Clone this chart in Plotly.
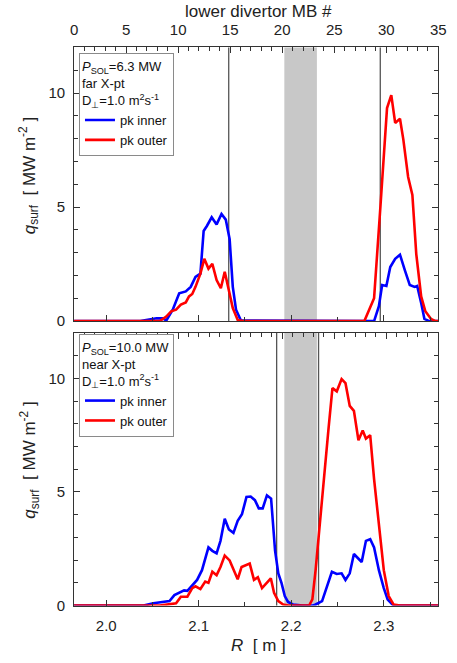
import plotly.graph_objects as go

# ---------------- data ----------------
# top panel: P_SOL = 6.3 MW, far X-pt
top_blue_R = [1.965, 2.0368, 2.0544, 2.0614, 2.0649, 2.0719, 2.0789, 2.0860, 2.0913, 2.0965,
              2.1018, 2.1053, 2.1088, 2.1140, 2.1193, 2.1246, 2.1292, 2.1334, 2.1368, 2.1403,
              2.1456, 2.2895, 2.2947, 2.2982, 2.3028, 2.3070, 2.3123, 2.3175, 2.3228, 2.3281,
              2.3333, 2.3361, 2.3404, 2.3439, 2.3491, 2.360]
top_blue_q = [0, 0, 0.12, 0.12, 0.02, 0.5, 1.22, 1.3, 1.5, 1.94,
              2.08, 3.95, 4.17, 4.55, 4.24, 4.7, 4.45, 3.59, 1.5, 0.5,
              0.02, 0, 0.65, 1.58, 1.54, 2.37, 2.73, 2.91, 2.22, 1.58,
              1.5, 1.54, 0.79, 0.1, 0, 0]
top_red_R = [1.965, 2.0579, 2.0649, 2.0702, 2.0755, 2.0807, 2.0860, 2.0895, 2.0930, 2.0965,
             2.1018, 2.1060, 2.1105, 2.1147, 2.1193, 2.1239, 2.1281, 2.1316, 2.1368, 2.1421,
             2.1474, 2.2790, 2.2824, 2.2895, 2.2965, 2.3035, 2.3081, 2.3123, 2.3175, 2.3211,
             2.3263, 2.3309, 2.3351, 2.3404, 2.3449, 2.3509, 2.3560, 2.360]
top_red_q = [0, 0, 0.2, 0.43, 0.5, 0.72, 0.82, 1.08, 1.19, 1.5,
             2.08, 2.73, 2.3, 2.51, 1.8, 1.44, 2.16, 1.5, 0.57, 0.05,
             0, 0, 0.35, 1.0, 5.1, 9.34, 9.91, 8.69, 8.87, 7.97,
             6.32, 5.53, 2.94, 1.08, 0.43, 0.1, 0, 0]

# bottom panel: P_SOL = 10.0 MW, near X-pt
bot_blue_R = [1.965, 2.0403, 2.0509, 2.0684, 2.0737, 2.0789, 2.0842, 2.0877, 2.0930, 2.0982,
              2.1035, 2.1105, 2.1147, 2.1193, 2.1235, 2.1281, 2.1326, 2.1375, 2.1421, 2.1467,
              2.1516, 2.1561, 2.1607, 2.1649, 2.1691, 2.1737, 2.1782, 2.1825, 2.1860, 2.1895,
              2.1930, 2.1965, 2.2018, 2.2123, 2.2228, 2.2263, 2.2333, 2.2386, 2.2439, 2.2491,
              2.2544, 2.2586, 2.2632, 2.2677, 2.2719, 2.2761, 2.2807, 2.2853, 2.2895, 2.2947,
              2.3000, 2.3042, 2.3105, 2.360]
bot_blue_q = [0, 0, 0.1, 0.2, 0.46, 0.56, 0.67, 0.65, 0.87, 1.13,
              1.56, 2.56, 2.41, 2.3, 2.85, 3.82, 3.35, 3.2, 3.73, 4.02,
              4.78, 4.8, 4.64, 4.28, 4.28, 4.85, 4.71, 2.42, 1.42, 0.99,
              0.42, 0.16, 0.05, 0, 0, 0.05, 0.2, 0.85, 1.49, 1.39,
              1.42, 1.13, 1.42, 2.27, 2.1, 1.92, 2.85, 2.92, 2.56, 1.56,
              0.77, 0.27, 0, 0]
bot_red_R = [1.965, 2.0579, 2.0755, 2.0807, 2.0877, 2.0930, 2.0965, 2.1018, 2.1070, 2.1105,
             2.1147, 2.1193, 2.1235, 2.1281, 2.1334, 2.1379, 2.1421, 2.1463, 2.1508, 2.1551,
             2.1597, 2.1639, 2.1684, 2.1729, 2.1779, 2.1814, 2.1860, 2.1913, 2.1965, 2.2193,
             2.2228, 2.2263, 2.2305, 2.2351, 2.2403, 2.2445, 2.2492, 2.2544, 2.2586, 2.2632,
             2.2677, 2.2726, 2.2772, 2.2807, 2.2853, 2.2895, 2.2947, 2.3000, 2.3053, 2.3105,
             2.3176, 2.360]
bot_red_q = [0, 0, 0.1, 0.39, 0.39, 0.77, 0.85, 0.73, 1.06, 1.0,
             1.49, 1.34, 1.7, 2.2, 1.99, 1.56, 1.16, 1.7, 1.77, 1.85,
             1.13, 1.25, 0.77, 0.99, 1.2, 0.56, 0.2, 0.05, 0, 0,
             0.27, 1.56, 3.5, 5.6, 7.8, 9.57, 9.43, 9.97, 9.79, 8.79,
             8.57, 7.28, 7.71, 7.35, 7.5, 5.57, 3.42, 1.56, 0.42, 0.05,
             0, 0]

gap_band_R = [2.1925, 2.2277]          # shaded gap
top_lines_R = [2.1324, 2.2962]         # vertical markers, top panel
bot_lines_R = [2.1842, 2.2295]         # vertical markers, bottom panel

R_range = [1.9653, 2.3589]
MB_range = [0, 35]
q_range = [0, 12]

top_header = "<i>P</i><sub>SOL</sub>=6.3 MW<br>far X-pt<br>D<sub>⊥</sub>=1.0 m<sup>2</sup>s<sup>-1</sup>"
bot_header = "<i>P</i><sub>SOL</sub>=10.0 MW<br>near X-pt<br>D<sub>⊥</sub>=1.0 m<sup>2</sup>s<sup>-1</sup>"

# ---------------- layout geometry ----------------
W, H = 457, 663
FONT = "Liberation Sans, Arial, sans-serif"
AX = "#333333"
xdom = [72 / W, 446 / W]
top_dom = [1 - 325 / H, 1 - 48 / H]
bot_dom = [1 - 613 / H, 1 - 337 / H]

BLUE = "#0000ff"
RED = "#ff0000"
LW = 2.6

fig = go.Figure()
fig.add_trace(go.Scatter(x=top_blue_R, y=top_blue_q, mode="lines", name="pk inner",
                         line=dict(color=BLUE, width=LW), xaxis="x", yaxis="y", legend="legend"))
fig.add_trace(go.Scatter(x=top_red_R, y=top_red_q, mode="lines", name="pk outer",
                         line=dict(color=RED, width=LW), xaxis="x", yaxis="y", legend="legend"))
fig.add_trace(go.Scatter(x=bot_blue_R, y=bot_blue_q, mode="lines", name="pk inner",
                         line=dict(color=BLUE, width=LW), xaxis="x2", yaxis="y2", legend="legend2"))
fig.add_trace(go.Scatter(x=bot_red_R, y=bot_red_q, mode="lines", name="pk outer",
                         line=dict(color=RED, width=LW), xaxis="x2", yaxis="y2", legend="legend2"))
# empty traces so the MB (top) axes are created
fig.add_trace(go.Scatter(x=[], y=[], xaxis="x3", yaxis="y", showlegend=False, hoverinfo="skip"))
fig.add_trace(go.Scatter(x=[], y=[], xaxis="x4", yaxis="y2", showlegend=False, hoverinfo="skip"))

shapes = []
for xr, yr in (("x", "y"), ("x2", "y2")):
    shapes.append(dict(type="rect", xref=xr, yref=yr + " domain", x0=gap_band_R[0], x1=gap_band_R[1],
                       y0=0, y1=1, fillcolor="#c8c8c8", line=dict(width=0), layer="below"))
for xv in top_lines_R:
    shapes.append(dict(type="line", xref="x", yref="y domain", x0=xv, x1=xv, y0=0, y1=1,
                       line=dict(color="#555555", width=1.3), layer="below"))
for xv in bot_lines_R:
    shapes.append(dict(type="line", xref="x2", yref="y2 domain", x0=xv, x1=xv, y0=0, y1=1,
                       line=dict(color="#555555", width=1.3), layer="below"))

tickfont = dict(family=FONT, size=15, color="#222222")


def r_axis(anchor, labels):
    return dict(domain=xdom, anchor=anchor, range=R_range, showgrid=False, zeroline=False,
                showline=True, linecolor=AX, linewidth=1, mirror=False,
                ticks="inside", ticklen=6, tickcolor=AX, tick0=2.0, dtick=0.1,
                tickformat=".1f", showticklabels=labels, tickfont=tickfont, ticklabelstandoff=6,
                minor=dict(dtick=0.05, tick0=2.0, ticks="inside", ticklen=4, tickcolor=AX, showgrid=False))


def mb_axis(over, anchor, labels):
    return dict(overlaying=over, anchor=anchor, side="top", range=MB_range, showgrid=False,
                zeroline=False, showline=True, linecolor=AX, linewidth=1,
                ticks="inside", ticklen=6, tickcolor=AX, tick0=0, dtick=5,
                showticklabels=labels, tickfont=tickfont, ticklabelstandoff=5,
                minor=dict(dtick=1, ticks="inside", ticklen=4, tickcolor=AX, showgrid=False))


def q_axis(dom, anchor):
    return dict(domain=dom, anchor=anchor, range=q_range, showgrid=False, zeroline=False,
                showline=True, linecolor=AX, linewidth=1, mirror="ticks",
                ticks="inside", ticklen=6, tickcolor=AX, tick0=0, dtick=5,
                tickfont=tickfont, ticklabelstandoff=5,
                minor=dict(dtick=1, ticks="inside", ticklen=4, tickcolor=AX, showgrid=False))


legfont = dict(family=FONT, size=13, color="#111111")


def legend(ytop, header):
    return dict(x=77 / W, y=ytop, xanchor="left", yanchor="top", bgcolor="white",
                bordercolor="#8a8a8a", borderwidth=1, font=legfont,
                title=dict(text=header, font=legfont, side="top"),
                tracegroupgap=0, itemwidth=30)


ytitle = "<i>q</i><sub>surf</sub>  [ MW m<sup>-2</sup> ]"
annotations = [
    dict(text="lower divertor MB #", x=261 / W, y=1 - 12 / H, xref="paper", yref="paper",
         xanchor="center", yanchor="middle",
         showarrow=False, font=dict(family=FONT, size=17, color="#222222")),
    dict(text="<i>R</i>  [ m ]", x=261 / W, y=1 - 653 / H, xref="paper", yref="paper",
         xanchor="center", yanchor="middle",
         showarrow=False, font=dict(family=FONT, size=17, color="#222222")),
    dict(text=ytitle, x=26 / W, y=1 - 178 / H, xref="paper", yref="paper", textangle=-90,
         xanchor="center", yanchor="middle",
         showarrow=False, font=dict(family=FONT, size=17, color="#222222")),
    dict(text=ytitle, x=26 / W, y=1 - 466 / H, xref="paper", yref="paper", textangle=-90,
         xanchor="center", yanchor="middle",
         showarrow=False, font=dict(family=FONT, size=17, color="#222222")),
]

fig.update_layout(
    width=W, height=H, margin=dict(l=0, r=0, t=0, b=0),
    paper_bgcolor="white", plot_bgcolor="white",
    font=dict(family=FONT, color="#222222"),
    xaxis=r_axis("y", False),
    yaxis=q_axis(top_dom, "x"),
    xaxis2=r_axis("y2", True),
    yaxis2=q_axis(bot_dom, "x2"),
    xaxis3=mb_axis("x", "y", True),
    xaxis4=mb_axis("x2", "y2", False),
    legend=legend(1 - 54 / H, top_header),
    legend2=legend(1 - 338 / H, bot_header),
    shapes=shapes,
    annotations=annotations,
)

fig.write_html("out.html", config={"displayModeBar": False},
               post_script="document.body.style.margin='0';document.body.style.overflow='hidden';")
